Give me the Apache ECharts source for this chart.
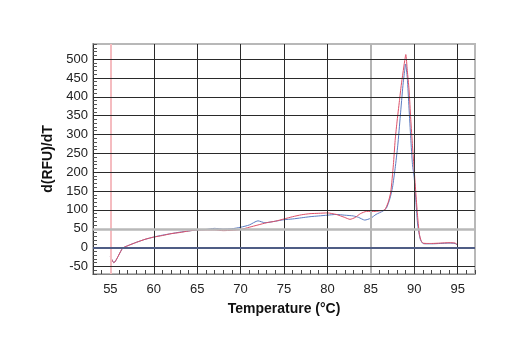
<!DOCTYPE html>
<html><head><meta charset="utf-8">
<script src="https://cdn.jsdelivr.net/npm/echarts@6/dist/echarts.min.js"></script>
<style>html,body{margin:0;padding:0;background:#fff}#c{width:520px;height:350px}</style>
</head><body><div id="c"></div>
<script>
const xTicks = [55, 60, 65, 70, 75, 80, 85, 90, 95];
const yTicks = [-50, 0, 50, 100, 150, 200, 250, 300, 350, 400, 450, 500];

const redTemp = [55.0, 55.4, 56.4, 57, 58, 59, 60, 61, 62, 63, 64, 65, 66, 67, 68, 69, 70, 71, 72, 73, 74, 75, 76, 77, 78, 79, 80, 81, 82, 82.6, 83.2, 83.8, 84.5, 85.5, 86.2, 86.6, 87.0, 87.3, 87.6, 87.8, 88.0, 88.3, 88.5, 88.7, 88.9, 89.03, 89.2, 89.4, 89.6, 89.8, 90.0, 90.2, 90.4, 90.6, 90.8, 91.0, 91.5, 92, 93, 94, 94.7, 95.0];
const redVal  = [-24, -40, -2, 5, 14, 22, 28, 32, 37, 40, 44, 47, 47, 47, 45, 46, 48, 54, 60, 66, 70, 76, 82, 87, 90, 91, 92, 88, 80, 75, 80, 90, 96, 96, 98, 100, 120, 148, 220, 284, 330, 390, 430, 463, 495, 512, 470, 420, 340, 270, 205, 140, 80, 35, 18, 12, 11, 11, 12, 13, 12, 7];

const blueTemp = [55.0, 55.4, 56.4, 57, 58, 59, 60, 61, 62, 63, 64, 65, 66, 67, 67.5, 68, 69, 70, 71, 72, 72.8, 74, 75, 76, 77, 78, 79, 80, 81, 82, 83, 83.6, 84.3, 85, 85.6, 86.4, 86.8, 87.2, 87.5, 87.8, 88.1, 88.4, 88.7, 88.9, 89.0, 89.2, 89.4, 89.6, 89.8, 90.0, 90.2, 90.4, 90.7, 91.0, 91.5, 92, 93, 94, 94.7, 95.0];
const blueVal  = [-24, -40, -2, 5, 14, 22, 28, 33, 37, 41, 44, 47, 48, 51, 50, 49, 50, 54, 60, 71, 66, 70, 74, 76, 79, 82, 84, 86, 88, 86, 84, 80, 73, 78, 88, 97, 105, 130, 160, 210, 270, 350, 430, 470, 487, 450, 370, 290, 220, 185, 120, 60, 22, 11, 10, 10, 11, 12, 11, 6];

const zip = (a, b) => a.map((v, i) => [v, b[i]]);
const FONT = "'Liberation Sans Narrow', 'Liberation Sans', Arial, sans-serif";

const vLines = xTicks.map(v => {
  let ls = {color: '#2a2a2a', width: 1, type: 'solid'};
  if (v === 55) ls = {color: '#f5bcc0', width: 2, type: 'solid'};
  if (v === 85) ls = {color: '#b4b4b4', width: 2, type: 'solid'};
  if (v === 90) ls = {color: '#3a3a3a', width: 1, type: 'solid'};
  return {xAxis: v, lineStyle: ls};
});
const hLines = yTicks.map(v => {
  let ls = {color: '#2a2a2a', width: 1, type: 'solid'};
  if (v === 50) ls = {color: '#b8b8b8', width: 2.5, type: 'solid'};
  if (v === 0) ls = {color: '#4f5d85', width: 2, type: 'solid'};
  return {yAxis: v, lineStyle: ls};
});

const chart = echarts.init(document.getElementById('c'), null, {renderer: 'canvas'});
chart.setOption({
  animation: false,
  backgroundColor: '#fff',
  grid: {left: 93, top: 44, right: 45, bottom: 76, show: true, borderColor: '#b8b8b8', borderWidth: 2},
  xAxis: {
    type: 'value', min: 53, max: 97, interval: 1,
    name: 'Temperature (°C)', nameLocation: 'middle', nameGap: 28,
    nameTextStyle: {fontFamily: FONT, fontWeight: 'bold', fontSize: 14, color: '#111'},
    axisLine: {show: true, onZero: false, lineStyle: {color: '#888', width: 1}},
    axisTick: {show: true, inside: true, length: 4, lineStyle: {color: '#444'}},
    axisLabel: {margin: 9, fontFamily: FONT, fontSize: 13, color: '#222', formatter: v => (v % 5 === 0 ? String(v) : '')},
    splitLine: {show: false}
  },
  yAxis: {
    type: 'value', min: -70, max: 540, interval: 10,
    name: 'd(RFU)/dT', nameLocation: 'middle', nameGap: 36, nameRotate: 90,
    nameTextStyle: {fontFamily: FONT, fontWeight: 'bold', fontSize: 14, color: '#111'},
    axisLine: {show: true, lineStyle: {color: '#333', width: 1}},
    axisTick: {show: true, inside: true, length: 4, lineStyle: {color: '#555'}},
    axisLabel: {margin: 5, fontFamily: FONT, fontSize: 13, color: '#222', formatter: v => (v % 50 === 0 && v >= -50 && v <= 500 ? String(v) : '')},
    splitLine: {show: false}
  },
  series: [
    {
      type: 'line', data: [], silent: true, z: 1,
      markLine: {silent: true, symbol: 'none', label: {show: false}, animation: false, data: vLines.concat(hLines)}
    },
    {
      name: 'blue', type: 'line', data: zip(blueTemp, blueVal), showSymbol: false, smooth: 0.2, z: 3,
      lineStyle: {color: '#5b7cc2', width: 1}, itemStyle: {color: '#5b7cc2'}
    },
    {
      name: 'red', type: 'line', data: zip(redTemp, redVal), showSymbol: false, smooth: 0.2, z: 4,
      lineStyle: {color: '#de5068', width: 1}, itemStyle: {color: '#de5068'}
    }
  ]
});
</script></body></html>
